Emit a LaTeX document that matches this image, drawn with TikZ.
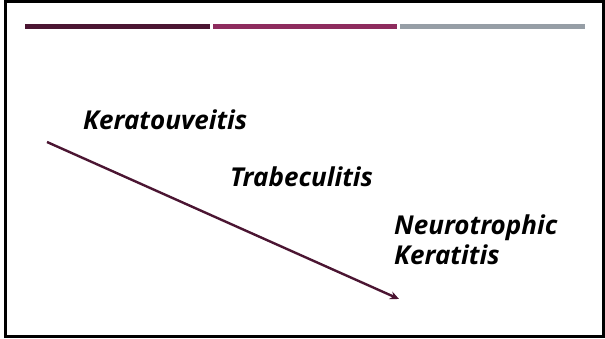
\documentclass[tikz,border=0pt]{standalone}
\usepackage{fontspec}
\setmainfont{Open Sans}
\usepackage{tikz}
\usetikzlibrary{positioning, arrows.meta, calc}
\definecolor{plum}{HTML}{4B1532}
\definecolor{berry}{HTML}{8E2C5E}
\definecolor{steel}{HTML}{969EA6}
\tikzset{
  label/.style={anchor=base west, inner sep=0pt, font=\fontsize{26}{30}\selectfont\bfseries\itshape, align=left},
  bar/.style={line width=5pt},
  arrow/.style={line width=2.4pt, color=plum, -{Stealth[length=9pt, width=8pt]}}
}

\begin{document}
\begin{tikzpicture}[x=1pt, y=-1pt]
            \useasboundingbox (0,0) rectangle (605,339);
            \draw[line width=3pt] (5.5,1.5) rectangle (603.5,336.5);

            % bars across the top
            \draw[bar, plum] (25,26.5) -- (210,26.5);
            \draw[bar, berry] (213,26.5) -- (397,26.5);
            \draw[bar, steel] (400,26.5) -- (585,26.5);

            \node (kerato) [label] at (83,130) {Keratouveitis};
            \node (trabec) [label] at (230,187) {Trabeculitis};
            % base of a two-line node is the last line
            \node (neuro) [label] at (394,265) {Neurotrophic\\Keratitis};

            \coordinate (from) at (47,142);
            \coordinate (to) at (399,299);
            \draw [arrow] (from) -- (to);
        \end{tikzpicture}
\end{document}
